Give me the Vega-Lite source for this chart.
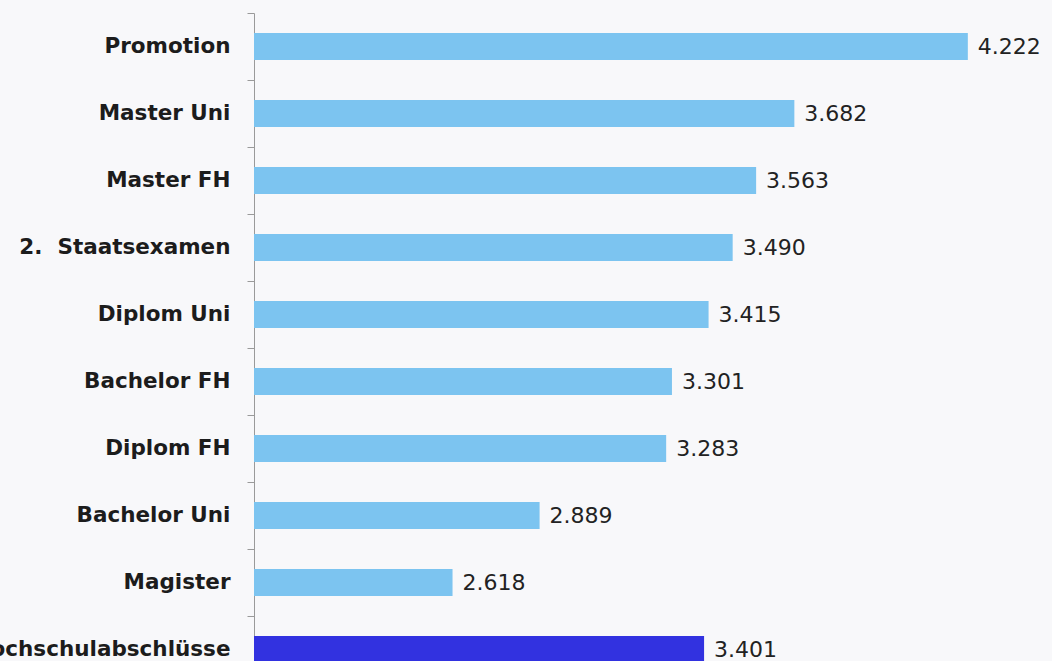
{
  "$schema": "https://vega.github.io/schema/vega-lite/v6.json",
  "autosize": "none",
  "width": 798,
  "height": 648,
  "padding": {"left": 254, "top": 13, "right": 0, "bottom": 0},
  "background": "#f8f8fa",
  "config": {"view": {"stroke": null}},
  "data": {
    "values": [
      {"abschluss": "Promotion", "gehalt": 4.222, "gruppe": "einzeln"},
      {"abschluss": "Master Uni", "gehalt": 3.682, "gruppe": "einzeln"},
      {"abschluss": "Master FH", "gehalt": 3.563, "gruppe": "einzeln"},
      {"abschluss": "2.\u00a0 Staatsexamen", "gehalt": 3.490, "gruppe": "einzeln"},
      {"abschluss": "Diplom Uni", "gehalt": 3.415, "gruppe": "einzeln"},
      {"abschluss": "Bachelor FH", "gehalt": 3.301, "gruppe": "einzeln"},
      {"abschluss": "Diplom FH", "gehalt": 3.283, "gruppe": "einzeln"},
      {"abschluss": "Bachelor Uni", "gehalt": 2.889, "gruppe": "einzeln"},
      {"abschluss": "Magister", "gehalt": 2.618, "gruppe": "einzeln"},
      {"abschluss": "Alle Hochschulabschlüsse", "gehalt": 3.401, "gruppe": "alle"}
    ]
  },
  "encoding": {
    "y": {
      "field": "abschluss",
      "type": "nominal",
      "sort": null,
      "scale": {"range": [0, 670], "padding": 0},
      "axis": {
        "title": null,
        "tickBand": "extent",
        "tickSize": 7,
        "tickColor": "#9a9a9a",
        "domainColor": "#9a9a9a",
        "labelFont": "DejaVu Sans",
        "labelFontWeight": "bold",
        "labelFontSize": 21.5,
        "labelColor": "#1c1c1c",
        "labelPadding": 17,
        "labelLimit": 0
      }
    },
    "x": {
      "field": "gehalt",
      "type": "quantitative",
      "scale": {"domain": [2, 4.484], "zero": false, "nice": false},
      "axis": null
    }
  },
  "layer": [
    {
      "mark": {"type": "bar", "size": 27},
      "encoding": {
        "x2": {"datum": 2},
        "color": {
          "field": "gruppe",
          "type": "nominal",
          "scale": {"domain": ["einzeln", "alle"], "range": ["#7cc4f0", "#3232e0"]},
          "legend": null
        }
      }
    },
    {
      "mark": {"type": "text", "align": "left", "baseline": "middle", "dx": 10, "font": "DejaVu Sans", "fontSize": 22, "color": "#222222"},
      "encoding": {
        "text": {"field": "gehalt", "type": "quantitative", "format": ".3f"}
      }
    }
  ]
}
